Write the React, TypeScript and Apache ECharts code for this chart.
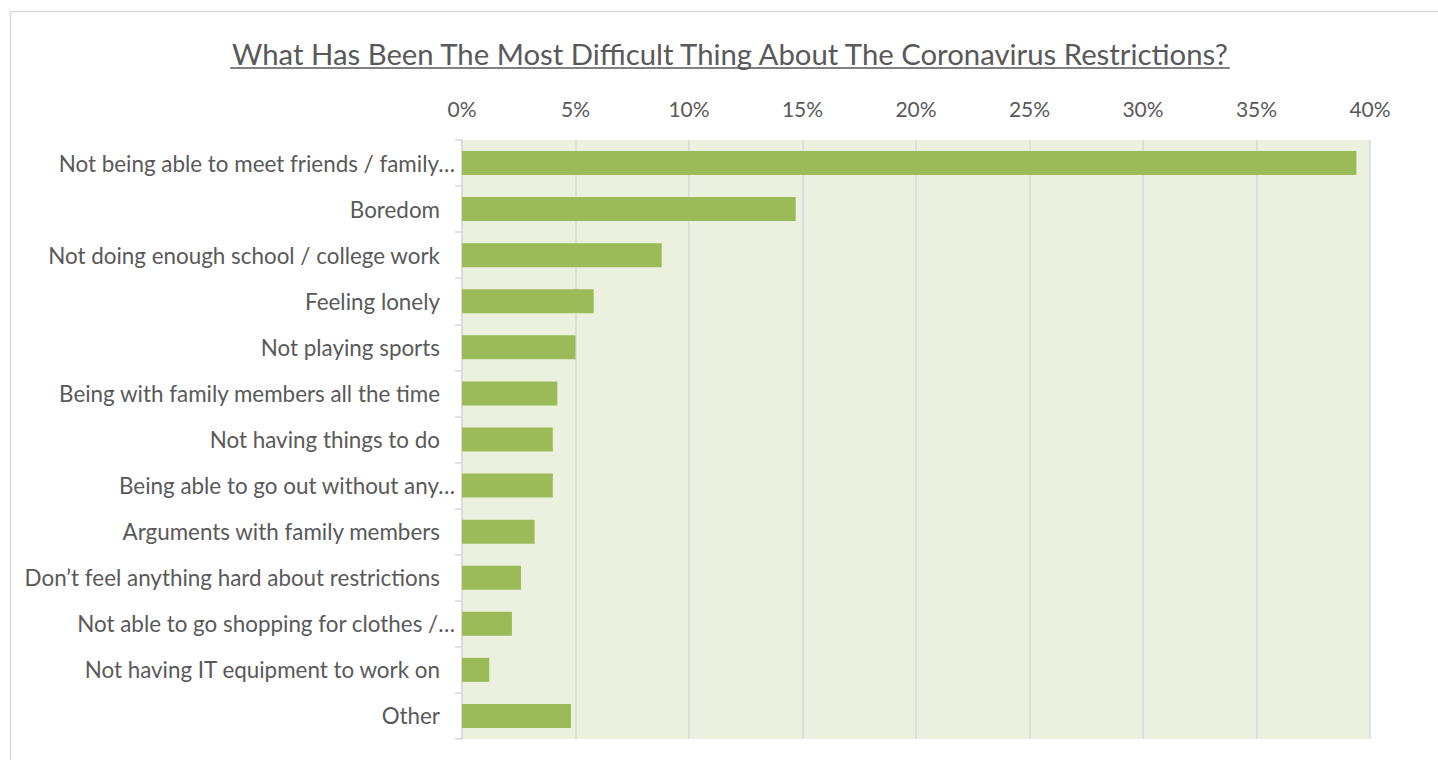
import React, { useEffect, useRef } from "react";
import * as echarts from "echarts";

const TITLE = "What Has Been The Most Difficult Thing About The Coronavirus Restrictions?";

const categories = [
  "Not being able to meet friends / family…",
  "Boredom",
  "Not doing enough school / college work",
  "Feeling lonely",
  "Not playing sports",
  "Being with family members all the time",
  "Not having things to do",
  "Being able to go out without any…",
  "Arguments with family members",
  "Don’t feel anything hard about restrictions",
  "Not able to go shopping for clothes /…",
  "Not having IT equipment to work on",
  "Other",
];

const values = [39.4, 14.7, 8.8, 5.8, 5.0, 4.2, 4.0, 4.0, 3.2, 2.6, 2.2, 1.2, 4.8];

const xTicks = { min: 0, max: 40, interval: 5 };

const FONT = "Lato, 'Noto Sans', sans-serif";
const TEXT = "#595959";
const TITLE_SIZE = 29.3;
const LABEL_SIZE = 22.4;
const TICK_SIZE = 21;

function measure(text: string, size: number): number {
  const c = document.createElement("canvas");
  const ctx = c.getContext("2d");
  if (!ctx) return text.length * size * 0.5;
  ctx.font = `${size}px Lato`;
  return ctx.measureText(text).width;
}

export default function App() {
  const ref = useRef<HTMLDivElement>(null);

  useEffect(() => {
    if (!ref.current) return;
    const chart = echarts.init(ref.current, null, { renderer: "svg" });
    const W = 1438;
    const tw = measure(TITLE, TITLE_SIZE);
    const cx = 730;
    const labelBase = { fontFamily: FONT, fontSize: LABEL_SIZE, color: TEXT };
    const option = {
      animation: false,
      backgroundColor: "#ffffff",
      graphic: [
        {
          type: "rect",
          shape: { x: 10.5, y: 11.5, width: W + 20, height: 800 },
          style: { fill: "none", stroke: "#D9D9D9", lineWidth: 1.5 },
          silent: true,
          z: -1,
        },
        {
          type: "text",
          x: cx,
          y: 53,
          style: {
            text: TITLE,
            fontFamily: FONT,
            fontSize: TITLE_SIZE,
            fill: TEXT,
            align: "center",
            verticalAlign: "middle",
          },
          silent: true,
        },
        {
          type: "line",
          shape: { x1: cx - tw / 2, y1: 68, x2: cx + tw / 2, y2: 68 },
          style: { stroke: TEXT, lineWidth: 1.5 },
          silent: true,
        },
      ],
      grid: {
        left: 462,
        right: 68,
        top: 140,
        bottom: 21,
        show: true,
        backgroundColor: "#EBF1DE",
        borderWidth: 0,
      },
      xAxis: {
        type: "value",
        position: "top",
        min: xTicks.min,
        max: xTicks.max,
        interval: xTicks.interval,
        axisLine: { show: false },
        axisTick: { show: false },
        axisLabel: {
          formatter: "{value}%",
          fontFamily: FONT,
          fontSize: TICK_SIZE,
          color: TEXT,
          margin: 21,
        },
        splitLine: { show: true, lineStyle: { color: "#D9D9D9", width: 1.5 } },
      },
      yAxis: {
        type: "category",
        data: categories,
        inverse: true,
        axisLine: { show: true, lineStyle: { color: "#D9D9D9", width: 1.5 } },
        axisTick: { show: true, length: 7, lineStyle: { color: "#D9D9D9", width: 1.5 } },
        axisLabel: {
          ...labelBase,
          margin: 7,
          formatter: (v: string) => (v.endsWith("…") ? `{e|${v}}` : `{n|${v}}`),
          rich: {
            e: { ...labelBase, padding: [0, 0, 0, 0] },
            n: { ...labelBase, padding: [0, 15, 0, 0] },
          },
        },
        splitLine: { show: false },
      },
      series: [
        {
          type: "bar",
          data: values,
          barWidth: 24,
          itemStyle: { color: "#9BBB59" },
          silent: true,
        },
      ],
    };
    chart.setOption(option as any);
    return () => chart.dispose();
  }, []);

  return (
    <div
      ref={ref}
      style={{ position: "fixed", left: 0, top: 0, width: 1438, height: 760 }}
    />
  );
}
